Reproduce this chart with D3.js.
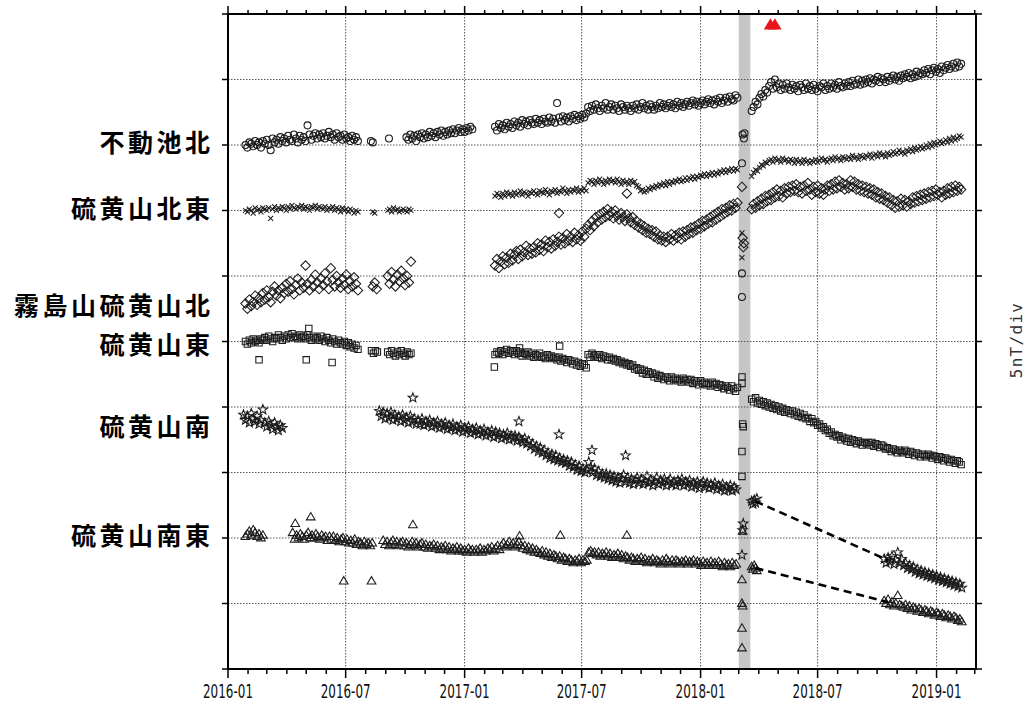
<!DOCTYPE html>
<html>
<head>
<meta charset="utf-8">
<script src="https://cdn.jsdelivr.net/npm/d3@7"></script>
<style>
  body { margin: 0; background: #fff; }
  svg { display: block; }
</style>
</head>
<body>
<svg id="chart" width="1029" height="702"></svg>
<script>
// ---- Stations (top to bottom) and the level (nT, stacked scale) at which each name is written
const stationNames = ["不動池北", "硫黄山北東", "霧島山硫黄山北", "硫黄山東", "硫黄山南", "硫黄山南東"];
const stationLabelLevels = [40.3, 35.3, 27.9, 24.9, 18.6, 10.3];

// ---- Total-field readings, one list per continuous run: [first date, interval (days), values in nT]
const fudoikeRuns = [
  ["2016-01-28", 3, [40.0,39.8,40.2,40.1,39.9,40.3,40.0,40.2,39.8,40.3, 40.1,40.4,40.0,39.6,40.5,40.2,40.4,40.1,40.6,40.3, 40.5,40.2,40.7,40.4,40.3,40.8,40.5,40.2,40.7,40.4, 40.6,40.3,41.5,40.8,40.4,40.7,40.9,40.5,40.8,40.6, 40.9,40.5,40.7,41.0,40.6,40.8,40.4,40.9,40.6,40.7, 40.4,40.8,40.5,40.6,40.3,40.7,40.4,40.6,40.3]],
  ["2016-08-09", 3, [40.3,40.2]],
  ["2016-09-06", 3, [40.5]],
  ["2016-10-03", 3, [40.6,40.4,40.8,40.5,40.7,40.3,40.8,40.6,40.9,40.5, 40.8,40.6,41.0,40.7,40.9,40.6,41.0,40.8,41.1,40.7, 41.0,40.8,41.1,40.9,41.2,40.9,41.1,41.3,41.0,41.2, 41.0,41.3,41.1,41.4,41.2]],
  ["2017-02-17", 3, [41.4,41.1,41.6,41.3,41.5,41.2,41.7,41.4,41.6,41.3, 41.8,41.5,41.7,41.4,41.9,41.6,41.8,41.5,41.9,41.7, 41.6,42.0,41.7,41.9,41.6,42.0,41.8,41.7,42.1,41.8, 42.0,41.7,43.2,42.1,41.8,42.2,41.9,42.1,41.8,42.2, 42.0,42.3,41.9,42.2,42.0,42.3,42.1,42.4,42.9,42.6, 43.0,42.7,43.1,42.8,42.6,43.0,42.8,43.2,42.7,42.9, 43.1,42.7,43.0,42.8,42.6,43.1,42.9,42.7,43.0,42.8, 42.6,43.0,42.8,43.1,42.7,42.9,43.2,42.8,43.0,42.7, 43.1,42.9,42.7,43.0,42.8,43.2,42.9,43.1,42.8,43.0, 43.2,42.9,43.1,42.8,43.3,43.0,43.2,42.9,43.1,43.3, 43.0,43.2,43.4,43.1,43.3,43.0,43.2,43.4,43.1,43.3, 43.5,43.2,43.4,43.1,43.5,43.3,43.6,43.2,43.4,43.6, 43.3,43.7,43.5,43.4,43.8,43.6]],
  ["2018-03-21", 3, [42.6,42.9,43.3,43.1,43.6,43.9,43.7,44.2,44.0,44.5, 44.8,44.3,45.0,44.4,44.7,44.2,44.6,44.3,44.7,44.4, 44.2,44.6,44.3,44.5,44.1,44.6,44.4,44.2,44.7,44.3, 44.5,44.2,44.6,44.3,44.1,44.5,44.4,44.7,44.2,44.5, 44.3,44.7,44.4,44.6,44.3,44.8,44.5,44.4,44.7,44.5, 44.8,44.5,44.9,44.6,44.7,45.0,44.6,44.9,44.7,45.0, 44.8,45.1,44.7,45.0,44.9,45.2,44.8,45.1,45.0,44.8, 45.2,44.9,45.1,45.3,45.0,45.2,44.9,45.3,45.1,45.4, 45.2,45.5,45.1,45.4,45.2,45.6,45.3,45.5,45.4,45.7, 45.5,45.8,45.4,45.7,45.9,45.6,45.8,45.5,46.0,45.7, 45.9,46.1,45.8,46.0,46.2,45.9,46.3,46.0,46.2]]
];
const fudoikeSingles = [["2018-03-07",40.8],["2018-03-09",40.5],["2018-03-10",40.9],["2018-03-06",38.6],["2018-03-06",30.2],["2018-03-06",28.4]];

const ioNERuns = [
  ["2016-01-28", 3, [35.0,34.9,35.1,35.0,34.8,35.2,35.0,35.1,34.9,35.2, 35.1,35.0,35.2,34.4,35.1,35.3,35.0,35.2,35.1,35.3, 35.2,35.0,35.3,35.1,35.4,35.2,35.1,35.3,35.2,35.4, 35.1,35.3,35.2,35.0,35.3,35.2,35.4,35.1,35.3,35.2, 35.1,35.3,35.0,35.2,35.1,35.3,35.0,35.2,35.1,34.9, 35.2,35.0,35.1,34.9,35.1,35.0,34.8,35.0,34.9]],
  ["2016-08-12", 3, [34.9,34.8]],
  ["2016-09-04", 3, [35.0,35.1,34.9,35.2,35.0,35.1,34.9,35.0,35.1,35.0,34.9,35.1,35.0]],
  ["2017-02-17", 3, [36.1,36.3,36.2,36.0,36.3,36.1,36.4,36.2,36.3,36.1, 36.4,36.2,36.3,36.5,36.2,36.4,36.3,36.1,36.4,36.3, 36.5,36.3,36.2,36.5,36.4,36.3,36.6,36.4,36.2,36.5, 36.4,36.6,36.3,36.5,36.4,36.7,36.5,36.3,36.6,36.4, 36.6,36.5,36.7,36.4,36.6,36.5,36.7,36.5,37.1,37.3, 37.2,37.0,37.3,37.1,37.4,37.2,37.0,37.3,37.1,37.4, 37.2,37.3,37.1,37.4,37.2,37.0,37.3,37.1,37.2,37.0, 37.3,37.1,37.2,36.9,36.8,36.5,36.6,36.4,36.5,36.7, 36.6,36.8,36.7,36.9,36.8,37.0,36.9,37.1,36.9,37.2, 37.0,37.2,37.1,37.3,37.2,37.4,37.2,37.3,37.5,37.3, 37.5,37.4,37.6,37.4,37.6,37.5,37.7,37.6,37.8,37.6, 37.8,37.7,37.9,37.7,37.9,37.8,38.0,37.9,38.1,37.9, 38.1,38.0,38.2,38.0,38.2,38.1]],
  ["2018-03-21", 3, [37.6,37.9,38.1,38.0,38.3,38.5,38.4,38.7,38.6,38.8, 38.9,38.7,39.0,38.8,38.9,38.7,39.0,38.8,38.9,38.7, 38.9,38.8,38.6,38.9,38.7,38.8,38.6,38.9,38.7,38.8, 38.6,38.8,38.7,38.9,38.7,38.8,39.0,38.8,38.9,38.7, 38.9,39.0,38.8,39.1,38.9,39.0,38.8,39.1,39.0,38.9, 39.1,38.9,39.2,39.0,39.1,38.9,39.2,39.1,39.0,39.2, 39.1,39.3,39.0,39.2,39.3,39.1,39.4,39.2,39.3,39.1, 39.4,39.2,39.3,39.5,39.3,39.4,39.6,39.4,39.5,39.3, 39.6,39.5,39.7,39.5,39.8,39.6,39.7,39.9,39.7,39.8, 40.0,39.8,40.1,39.9,40.2,40.0,40.1,40.3,40.1,40.2, 40.4,40.2,40.5,40.3,40.6,40.4,40.5,40.7,40.6]]
];
const ioNESingles = [["2018-03-06",33.3],["2018-03-06",31.4]];

const ioNRuns = [
  ["2016-01-28", 3, [27.9,27.5,28.2,27.7,28.0,28.5,27.8,28.3,28.0,28.7, 28.2,28.9,28.4,28.0,28.8,29.2,28.5,28.9,28.3,29.1, 28.7,29.4,28.8,29.6,29.0,28.6,29.3,29.8,28.9,29.5, 29.1,30.8,29.4,28.9,29.7,29.2,30.1,29.5,29.0,29.8, 29.3,30.2,29.6,29.0,30.6,29.7,29.2,30.0,29.5,29.1, 29.8,29.3,30.1,29.0,29.6,29.2,29.9,29.4,28.9]],
  ["2016-08-12", 3, [29.2,29.5,29.0]],
  ["2016-09-04", 3, [30.0,29.4,30.3,29.7,29.2,30.1,29.6,30.4,29.8,29.3,30.0,29.5,31.1]],
  ["2017-02-17", 3, [30.8,31.3,30.6,31.1,31.5,30.9,31.4,31.0,31.7,31.2, 31.6,31.9,31.3,32.0,31.5,31.8,32.3,31.6,32.1,31.7, 32.2,31.8,32.5,32.0,32.4,31.9,32.7,32.2,32.6,32.1, 32.8,32.3,32.6,33.0,32.4,32.9,32.5,33.2,32.7,33.0, 32.6,33.3,32.8,33.1,32.7,33.4,33.0,33.6,33.9,33.5, 34.2,33.8,34.5,34.1,34.7,34.3,34.9,34.5,35.1,34.6, 34.9,34.4,35.0,34.6,34.3,34.8,34.5,34.2,34.7,34.4, 34.1,34.5,33.9,34.2,33.7,34.0,33.5,33.8,33.3,33.6, 33.2,33.5,33.0,33.4,32.8,33.1,32.7,33.0,32.6,33.0, 32.8,33.2,32.7,33.1,32.9,33.3,32.8,33.4,33.0,33.5, 33.2,33.7,33.3,33.8,33.5,34.0,33.6,34.2,33.8,34.3, 34.0,34.5,34.1,34.7,34.3,34.9,34.5,35.1,34.7,35.2, 34.9,35.4,35.0,35.5,35.2,35.6]],
  ["2018-03-21", 3, [35.1,35.5,35.2,35.7,35.4,35.9,35.5,36.1,35.7,36.2, 35.8,36.4,36.0,36.6,36.1,36.5,36.0,36.7,36.3,36.8, 36.4,36.9,36.5,37.0,36.4,36.8,36.3,36.9,36.5,37.1, 36.6,36.2,36.8,36.4,36.9,36.3,36.7,36.2,36.6,36.9, 36.5,37.0,36.6,37.2,36.7,37.3,36.8,37.1,36.6,37.0, 36.7,37.3,36.8,37.2,36.6,37.0,36.5,36.9,36.4,36.8, 36.3,36.7,36.2,36.6,36.0,36.4,35.9,36.3,35.8,36.1, 35.6,36.0,35.4,35.8,35.2,35.7,35.3,35.9,35.4,35.8, 35.3,35.7,35.5,36.0,35.6,36.1,35.7,36.2,35.8,36.3, 35.9,36.4,36.0,36.5,36.1,36.6,36.2,36.4,36.0,36.5, 36.2,36.7,36.3,36.8,36.4,36.9,36.5,36.8,36.6]]
];
const ioNSingles = [["2017-05-27",34.8],["2017-09-09",36.3],["2018-03-09",32.5],["2018-03-08",32.2],["2018-03-07",32.9],["2018-03-06",36.8]];

const ioERuns = [
  ["2016-01-28", 3, [25.0,24.8,25.1,24.9,25.2,25.0,25.1,24.9,25.2,25.1, 25.3,25.1,25.4,25.2,25.0,25.3,25.2,25.5,25.3,25.1, 25.4,25.2,25.5,25.3,25.6,25.3,25.4,25.2,25.5,25.3, 25.4,25.2,25.5,25.3,25.1,25.4,25.2,25.3,25.1,25.4, 25.2,25.0,25.3,25.1,24.9,25.2,25.0,24.8,25.1,24.9, 24.8,25.0,24.7,24.9,24.6,24.8,24.5,24.7,24.4]],
  ["2016-08-10", 3, [24.3,24.1,24.3,24.2]],
  ["2016-09-04", 3, [24.2,24.0,24.3,24.1,23.9,24.2,24.0,24.3,24.1,23.9,24.2,24.0,24.1]],
  ["2017-02-17", 3, [24.0,24.2,24.1,24.3,24.0,24.2,24.4,24.1,24.3,24.2, 24.0,24.3,24.1,24.2,23.9,24.1,24.0,24.2,23.9,24.1, 23.8,24.0,23.9,24.1,23.8,23.9,23.7,24.0,23.8,23.9, 23.7,23.8,23.6,23.8,23.5,23.7,23.6,23.4,23.6,23.5, 23.3,23.5,23.2,23.4,23.1,23.3,23.2,23.0,24.0,23.8, 24.1,23.9,24.0,23.8,24.0,23.7,23.9,23.8,23.6,23.8, 23.6,23.7,23.5,23.6,23.4,23.5,23.3,23.4,23.2,23.3, 23.1,23.2,22.9,23.0,22.8,22.9,22.6,22.8,22.5,22.7, 22.5,22.6,22.3,22.5,22.2,22.4,22.3,22.1,22.3,22.2, 22.0,22.3,22.1,22.2,22.0,22.1,21.9,22.2,22.0,22.1, 21.9,22.1,21.8,22.0,21.9,21.7,22.0,21.8,21.9,21.7, 21.8,21.6,21.9,21.7,21.8,21.5,21.7,21.6,21.4,21.6, 21.5,21.3,21.6,21.4,21.2,21.5]],
  ["2018-03-21", 3, [20.6,20.4,20.7,20.3,20.5,20.2,20.4,20.1,20.3,20.0, 20.2,19.9,20.1,19.8,20.0,19.7,19.9,19.6,19.8,19.7, 19.5,19.7,19.4,19.6,19.3,19.5,19.2,19.4,19.1,19.2, 18.9,19.1,18.8,18.9,18.6,18.7,18.4,18.5,18.2,18.3, 18.0,18.1,17.8,17.9,17.7,17.8,17.5,17.7,17.6,17.4, 17.6,17.3,17.5,17.4,17.2,17.4,17.3,17.1,17.3,17.2, 17.3,17.1,17.3,17.0,17.2,17.1,16.9,17.1,17.0,16.8, 16.9,16.8,16.6,16.8,16.7,16.5,16.7,16.6,16.5,16.7, 16.6,16.4,16.6,16.5,16.3,16.5,16.4,16.2,16.4,16.3, 16.2,16.4,16.3,16.1,16.3,16.2,16.0,16.2,16.1,15.9, 16.1,16.0,15.8,16.0,15.9,15.7,15.9,15.8,15.6]]
];
const ioESingles = [["2016-02-18",23.6],["2016-05-01",23.6],["2016-06-10",23.4],["2016-05-05",26.0],["2017-02-16",23.05],["2017-03-27",24.5],["2017-05-28",24.65],["2018-03-07",18.7],["2018-03-08",18.5],["2018-03-06",16.6],["2018-03-06",14.7],["2018-03-06",21.8],["2018-03-06",22.3]];

const ioSRuns = [
  ["2016-01-25", 3, [19.4,19.0,19.3,18.8,19.5,19.1,18.9,19.3,18.7,19.0,19.8,18.8,18.5,18.9,18.6,18.3,18.8,18.5,18.2,18.6,18.4]],
  ["2016-08-22", 3, [19.7,19.3,19.6,19.1,19.5,19.2,19.6,19.0,19.4,19.1, 19.3,18.9,19.4,19.0,19.2,18.8,19.3,18.9,19.1,18.7, 19.0,18.7,19.1,18.6,18.9,18.7,19.0,18.5,18.8,18.6, 18.9,18.4,18.7,18.5,18.8,18.3,18.6,18.4,18.7,18.2, 18.5,18.3,18.6,18.1,18.4,18.2,18.5,18.0,18.3,18.1, 18.4,17.9,18.2,18.0,18.3,17.8,18.1,17.9,18.2,17.7, 18.1,17.8,18.0,17.6,17.9,17.7,18.0,17.5,17.8,17.6, 17.8,17.4,17.7,17.5,17.3,17.6,17.2,17.4,17.0,17.2, 16.8,17.0,16.6,16.9,16.5,16.7,16.3,16.5,16.1,16.4, 16.0,16.3,15.9,16.1,15.8,16.0,15.7,15.9,15.5,15.8, 15.4,15.6,15.2,15.5,15.1,15.3,15.0,15.2,15.8,15.4, 15.0,15.3,14.8,15.1,14.7,14.9,14.6,14.9,14.5,14.8, 14.4,14.7,14.3,14.6,14.2,14.5,14.8,14.3,14.6,14.2, 14.5,14.1,14.4,14.6,14.2,14.5,14.1,14.3,14.7,14.2, 14.4,14.0,14.3,14.6,14.1,14.4,14.2,14.5,14.0,14.3, 14.5,14.1,14.3,14.0,14.4,14.2,14.5,14.0,14.3,14.1, 14.4,13.9,14.2,14.0,14.3,13.8,14.1,14.3,13.9,14.2, 13.8,14.1,13.9,14.2,13.7,14.0,13.8,14.1,13.6,13.9, 13.7,14.0,13.6,13.9,13.7]],
  ["2018-03-21", 2, [12.8,12.6,12.9,12.7,13.0]],
  ["2018-10-12", 3, [8.4,8.1,8.5,8.2,8.6,8.0,8.3,8.9,8.1,8.4, 7.9,8.1,7.7,7.9,7.6,7.8,7.4,7.6,7.3,7.5, 7.2,7.4,7.1,7.3,7.0,7.2,6.9,7.1,6.8,7.0, 6.7,6.9,6.6,6.8,6.5,6.7,6.4,6.6,6.3,6.5, 6.2]]
];
const ioSSingles = [["2016-10-13",20.7],["2017-03-26",18.9],["2017-05-27",17.9],["2017-07-17",16.7],["2017-09-07",16.3],["2018-03-08",11.1],["2018-03-07",10.6],["2018-03-06",8.7]];

const ioSERuns = [
  ["2016-01-28", 3, [10.1,10.3,10.5,10.2,10.6,10.4,10.1,10.3,10.0,10.2]],
  ["2016-04-10", 3, [10.4,9.9,10.2,10.0,10.3,10.1,9.9,10.2,10.4,10.0, 10.2,10.0,10.3,10.1,9.9,10.2,10.0,10.1,9.8,10.1, 9.9,10.1,9.8,10.0,9.7,9.9,10.0,9.7,9.9,9.6, 9.8,9.6,9.9,9.5,9.7,9.6,9.4,9.7,9.5,9.6, 9.4,9.6]],
  ["2016-08-28", 3, [9.8,9.5,9.7,9.4,9.6,9.8,9.5,9.7,9.4,9.6, 9.7,9.4,9.6,9.3,9.5,9.7,9.4,9.6,9.3,9.5, 9.6,9.3,9.5,9.2,9.4,9.3,9.5,9.2,9.4,9.1, 9.3,9.2,9.4,9.1,9.3,9.0,9.2,9.1,9.3,9.0, 9.2,9.0,9.1,8.9,9.2,9.0,9.1,8.9,9.1,9.0, 9.2,8.9,9.1,9.0,9.2,9.1,9.3,9.0,9.2,9.4, 9.1,9.4,9.6,9.3,9.5,9.7,9.4,9.6,9.3,9.5, 9.7,9.4,9.2,9.4,9.1,9.3,9.0,9.2,8.9,9.1, 8.9,8.8,9.0,8.7,8.9,8.6,8.8,8.5,8.7,8.6, 8.4,8.6,8.3,8.5,8.4,8.2,8.4,8.3,8.1,8.3, 8.2,8.4,8.1,8.3,8.2,8.3,8.9,9.0,8.8,8.9, 8.7,8.9,8.6,8.8,8.7,8.9,8.6,8.8,8.5,8.7, 8.6,8.8,8.5,8.7,8.4,8.6,8.5,8.3,8.5,8.4, 8.2,8.4,8.3,8.5,8.2,8.4,8.1,8.3,8.2,8.4, 8.1,8.3,8.2,8.0,8.3,8.1,8.4,8.2,8.0,8.3, 8.1,8.3,8.2,8.0,8.2,8.1,8.3,8.0,8.2,8.1, 8.3,8.0,8.2,8.1,7.9,8.2,8.0,8.1,7.9,8.2, 8.0,8.1,7.9,8.2,8.0,7.8,8.1,7.9,8.0,7.8, 8.1,7.9,8.0]],
  ["2018-03-21", 2, [7.8,7.6,7.9,7.7,7.5]],
  ["2018-10-12", 3, [5.2,5.0,5.3,4.9,5.1,4.8,5.0,5.6,4.9,4.8, 4.7,4.9,4.6,4.8,4.5,4.7,4.6,4.4,4.6,4.5, 4.3,4.5,4.4,4.2,4.4,4.3,4.1,4.3,4.2,4.0, 4.2,4.1,3.9,4.1,4.0,3.8,4.0,3.9,3.7,3.8, 3.6]]
];
const ioSESingles = [["2016-04-14",11.1],["2016-05-08",11.6],["2016-10-13",11.0],["2016-06-28",6.7],["2016-08-10",6.7],["2017-03-27",10.15],["2017-05-29",10.2],["2017-09-09",10.2],["2018-03-07",10.5],["2018-03-06",6.8],["2018-03-06",5.0],["2018-03-07",4.8],["2018-03-06",3.1],["2018-03-06",1.6]];

// Runs joined across the long outage by a dashed line: [from date, value, to date, value]
const gapLinks = [
  ["2018-03-27", 12.8, "2018-10-18", 8.3],
  ["2018-03-27", 7.7, "2018-10-18", 5.1]
];

// Shaded period and eruption dates
const shadedPeriod = ["2018-03-01", "2018-03-19"];
const eruptionDates = ["2018-04-19", "2018-04-26"];

const xTickLabels = ["2016-01", "2016-07", "2017-01", "2017-07", "2018-01", "2018-07", "2019-01"];
const yTickValues = [0, 5, 10, 15, 20, 25, 30, 35, 40, 45, 50];
const unitLabel = "5nT/div";

// ---------------------------------------------------------------------------
const parseDate = d3.utcParse("%Y-%m-%d");
const svg = d3.select("#chart");
const box = { left: 228, right: 976, top: 14, bottom: 669 };

const x = d3.scaleUtc()
  .domain([parseDate("2016-01-01"), parseDate("2019-03-03")])
  .range([box.left, box.right]);
const y = d3.scaleLinear().domain([0, 50]).range([box.bottom, box.top]);

// open marker shapes (size argument = radius in px)
const shapes = {
  circle: { draw(c, r) { c.moveTo(r, 0); c.arc(0, 0, r, 0, 2 * Math.PI); } },
  cross: { draw(c, r) { c.moveTo(-r, -r); c.lineTo(r, r); c.moveTo(r, -r); c.lineTo(-r, r); } },
  diamond: { draw(c, r) { c.moveTo(0, -r); c.lineTo(r, 0); c.lineTo(0, r); c.lineTo(-r, 0); c.closePath(); } },
  square: { draw(c, r) { c.rect(-r, -r, 2 * r, 2 * r); } },
  star: { draw(c, r) {
    const ri = r * 0.42;
    for (let i = 0; i < 10; i++) {
      const a = -Math.PI / 2 + i * Math.PI / 5;
      const rr = i % 2 === 0 ? r : ri;
      if (i === 0) c.moveTo(rr * Math.cos(a), rr * Math.sin(a));
      else c.lineTo(rr * Math.cos(a), rr * Math.sin(a));
    }
    c.closePath();
  } },
  triangle: { draw(c, r) { c.moveTo(0, -r); c.lineTo(r * 0.95, r * 0.62); c.lineTo(-r * 0.95, r * 0.62); c.closePath(); } }
};

const stations = [
  { runs: fudoikeRuns, singles: fudoikeSingles, shape: "circle", r: 3.5 },
  { runs: ioNERuns, singles: ioNESingles, shape: "cross", r: 2.5 },
  { runs: ioNRuns, singles: ioNSingles, shape: "diamond", r: 4.7 },
  { runs: ioERuns, singles: ioESingles, shape: "square", r: 3.2 },
  { runs: ioSRuns, singles: ioSSingles, shape: "star", r: 5.0 },
  { runs: ioSERuns, singles: ioSESingles, shape: "triangle", r: 4.6 }
];

function expandRuns(runs, singles) {
  const pts = [];
  runs.forEach(([start, step, vals]) => {
    const t0 = parseDate(start);
    vals.forEach((v, i) => pts.push({ t: d3.utcDay.offset(t0, i * step), v }));
  });
  singles.forEach(([d, v]) => pts.push({ t: parseDate(d), v }));
  return pts;
}

// shaded period
svg.append("rect")
  .attr("x", x(parseDate(shadedPeriod[0])))
  .attr("y", box.top)
  .attr("width", x(parseDate(shadedPeriod[1])) - x(parseDate(shadedPeriod[0])))
  .attr("height", box.bottom - box.top)
  .attr("fill", "#c6c6c6");

// grid
const months = d3.utcMonth.range(parseDate("2016-01-01"), parseDate("2019-03-04"));
const majorMonths = months.filter(d => d.getUTCMonth() % 6 === 0);
const grid = svg.append("g").attr("stroke", "#555").attr("stroke-width", 1).attr("stroke-dasharray", "1.5,1.5");
majorMonths.slice(1).forEach(d => {
  grid.append("line").attr("x1", x(d)).attr("x2", x(d)).attr("y1", box.top).attr("y2", box.bottom);
});
yTickValues.slice(1, -1).forEach(v => {
  grid.append("line").attr("x1", box.left).attr("x2", box.right).attr("y1", y(v)).attr("y2", y(v));
});

// observations
const marks = svg.append("g").attr("fill", "none").attr("stroke", "#1c1c1c").attr("stroke-width", 1.05);
stations.forEach(s => {
  const sym = d3.symbol().type(shapes[s.shape]).size(s.r);
  marks.append("g")
    .selectAll("path")
    .data(expandRuns(s.runs, s.singles))
    .join("path")
    .attr("transform", d => `translate(${x(d.t)},${y(d.v)})`)
    .attr("d", sym);
});

// dashed links over the outage
svg.append("g").selectAll("line").data(gapLinks).join("line")
  .attr("x1", d => x(parseDate(d[0]))).attr("y1", d => y(d[1]))
  .attr("x2", d => x(parseDate(d[2]))).attr("y2", d => y(d[3]))
  .attr("stroke", "#000").attr("stroke-width", 2.6).attr("stroke-dasharray", "8,5");

// eruption markers
const eruptionSym = d3.symbol().type(shapes.triangle).size(7);
svg.append("g").selectAll("path").data(eruptionDates).join("path")
  .attr("transform", d => `translate(${x(parseDate(d))},${y(49.15)})`)
  .attr("d", eruptionSym)
  .attr("fill", "#e8141b");

// frame and ticks
const axes = svg.append("g").attr("stroke", "#000");
axes.append("rect")
  .attr("x", box.left).attr("y", box.top)
  .attr("width", box.right - box.left).attr("height", box.bottom - box.top)
  .attr("fill", "none").attr("stroke-width", 2);
months.forEach(d => {
  const major = d.getUTCMonth() % 6 === 0;
  axes.append("line").attr("x1", x(d)).attr("x2", x(d))
    .attr("y1", box.top - (major ? 8 : 4)).attr("y2", box.top).attr("stroke-width", 1.5);
  axes.append("line").attr("x1", x(d)).attr("x2", x(d))
    .attr("y1", box.bottom).attr("y2", box.bottom + (major ? 9 : 5)).attr("stroke-width", 1.5);
});
yTickValues.forEach(v => {
  axes.append("line").attr("x1", box.left - 6).attr("x2", box.left).attr("y1", y(v)).attr("y2", y(v)).attr("stroke-width", 1.5);
  axes.append("line").attr("x1", box.right).attr("x2", box.right + 6).attr("y1", y(v)).attr("y2", y(v)).attr("stroke-width", 1.5);
});

// date labels
svg.append("g").selectAll("text").data(majorMonths).join("text")
  .attr("x", d => x(d))
  .attr("y", 698)
  .attr("text-anchor", "middle")
  .attr("font-family", "DejaVu Sans")
  .attr("font-size", 19.5)
  .attr("textLength", 50)
  .attr("lengthAdjust", "spacingAndGlyphs")
  .attr("fill", "#111")
  .text((d, i) => xTickLabels[i]);

// station names
svg.append("g").selectAll("text").data(stationNames).join("text")
  .attr("x", 213.5)
  .attr("y", (d, i) => y(stationLabelLevels[i]))
  .attr("text-anchor", "end")
  .attr("dominant-baseline", "central")
  .attr("font-family", "'Noto Sans CJK JP', 'Noto Sans CJK SC', sans-serif")
  .attr("font-weight", 700)
  .attr("font-size", 25)
  .style("letter-spacing", "3.5px")
  .attr("fill", "#000")
  .text(d => d);

// scale note
svg.append("text")
  .attr("transform", "translate(1016,340) rotate(-90)")
  .attr("text-anchor", "middle")
  .attr("dominant-baseline", "central")
  .attr("font-family", "DejaVu Sans Mono")
  .attr("font-size", 16)
  .style("letter-spacing", "1.3px")
  .attr("fill", "#333")
  .text(unitLabel);
</script>
</body>
</html>
